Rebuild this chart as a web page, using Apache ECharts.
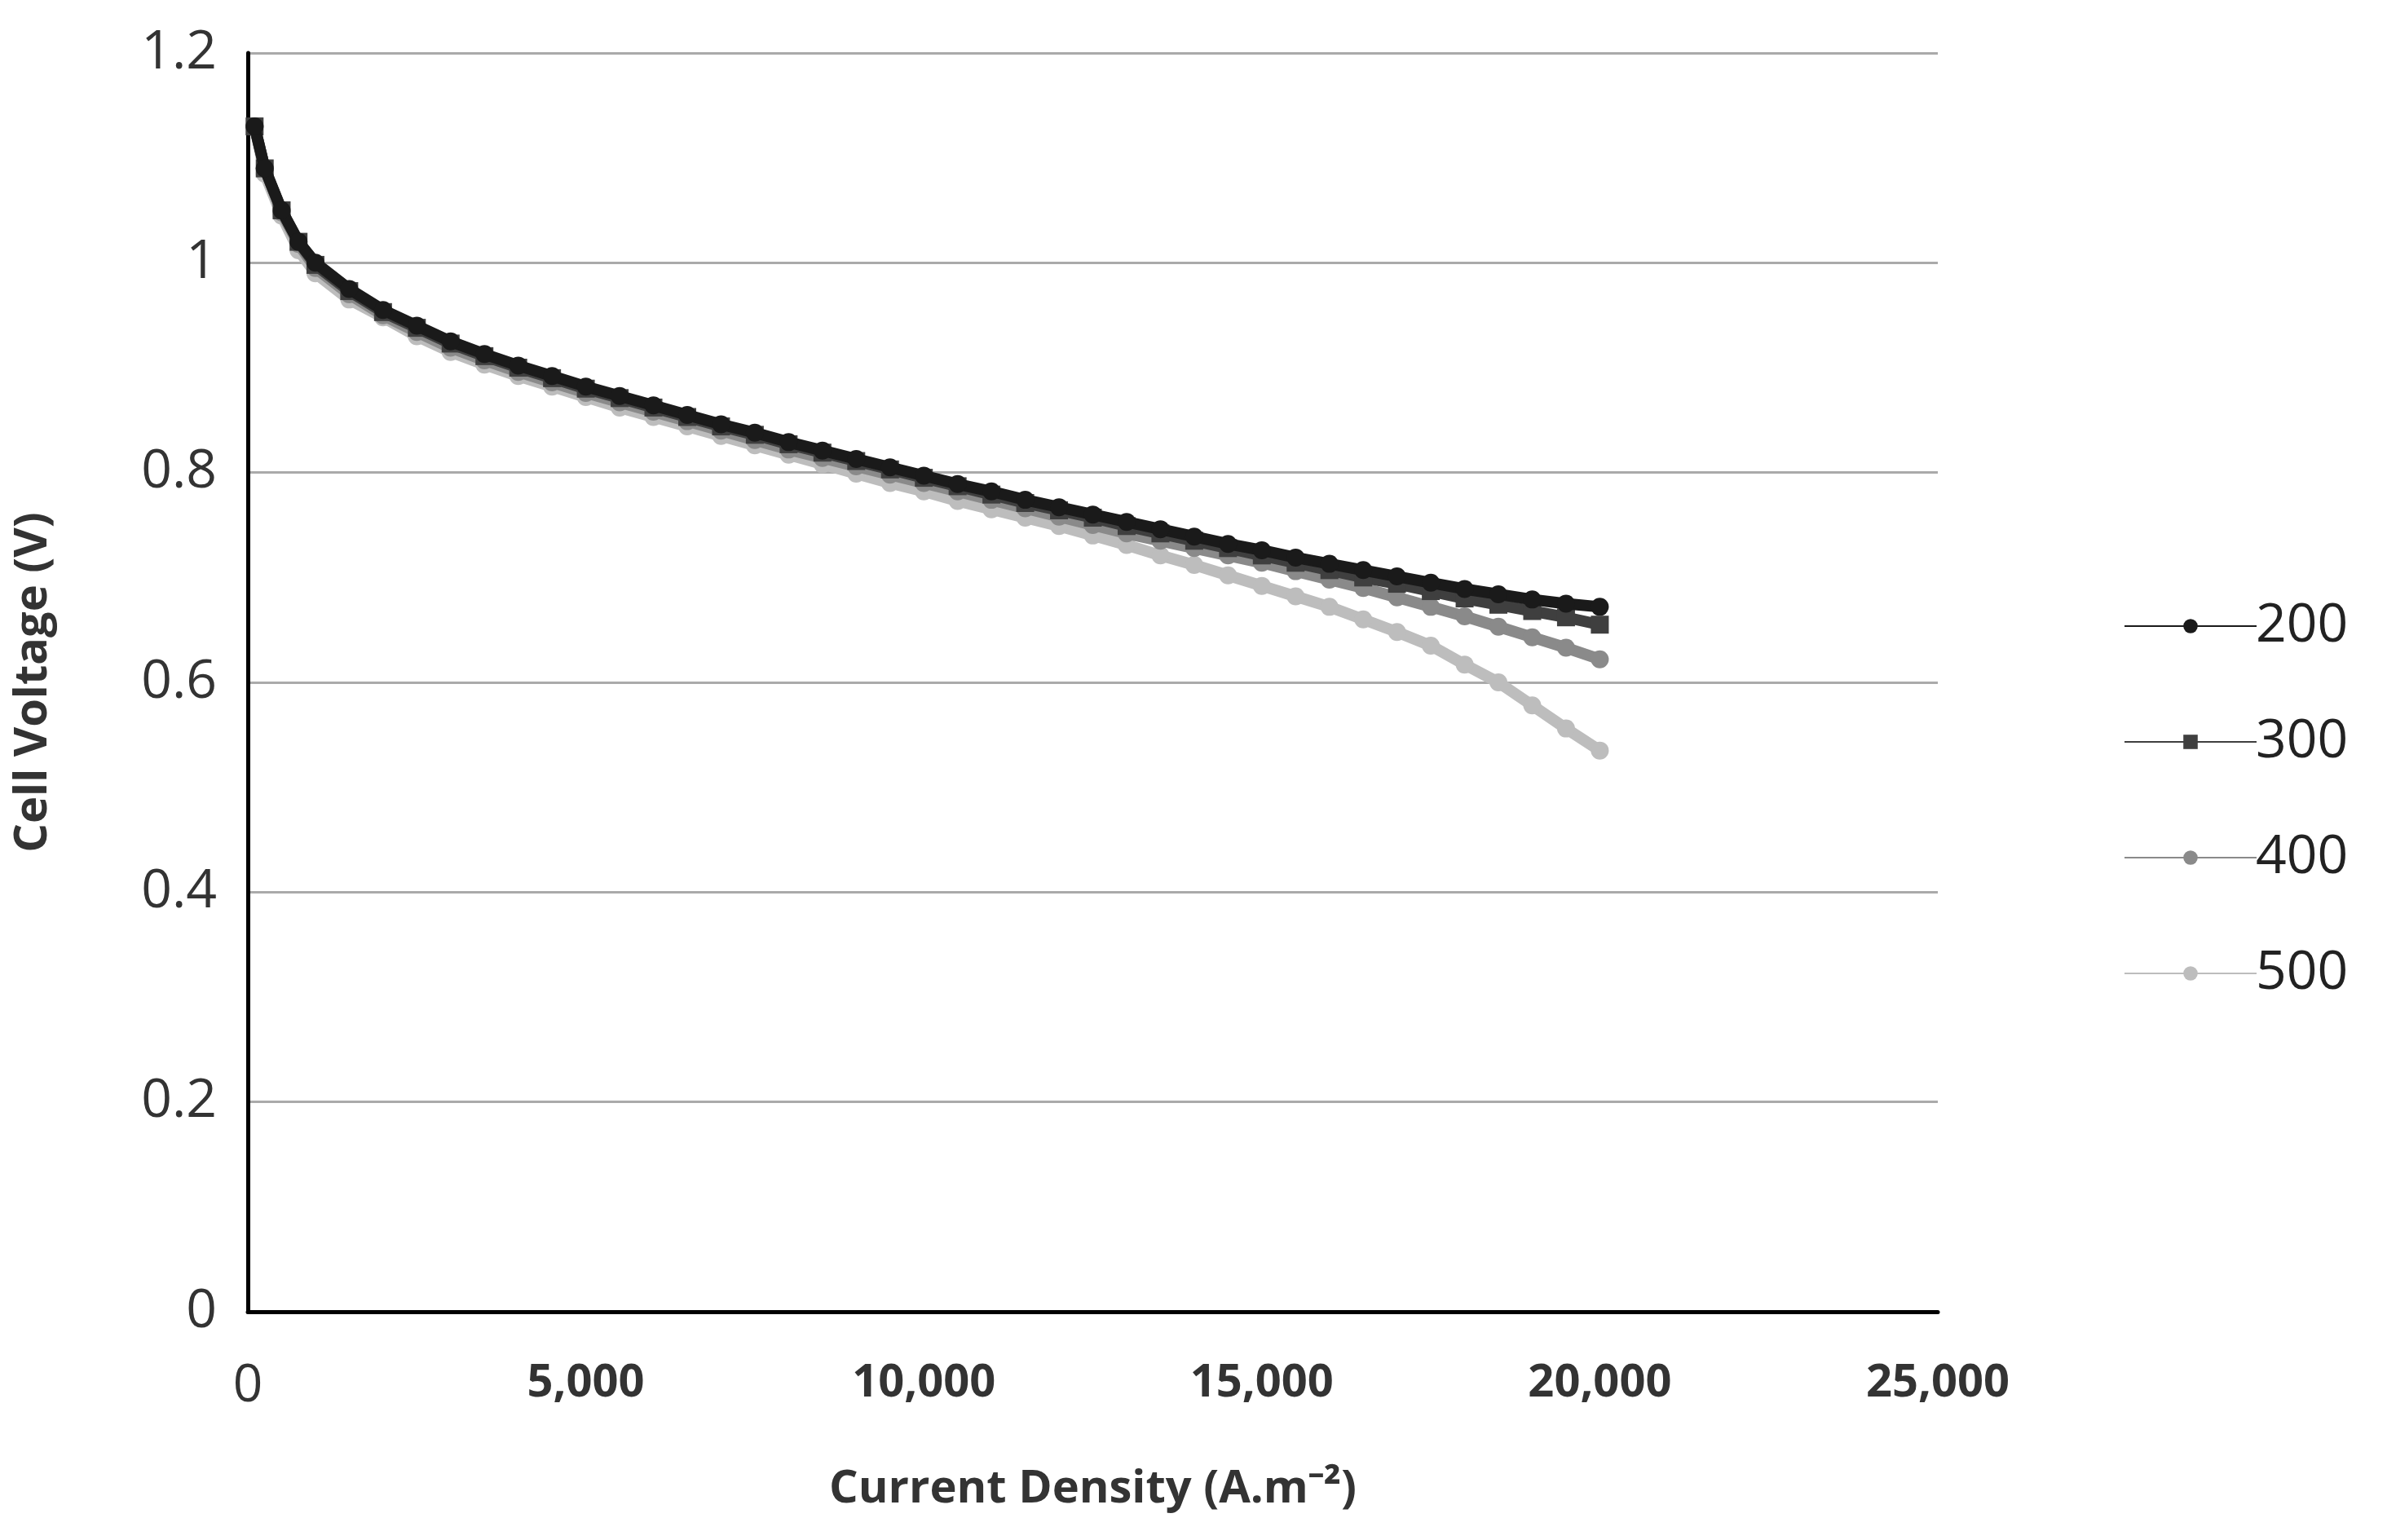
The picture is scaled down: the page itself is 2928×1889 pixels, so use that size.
<html>
<head>
<meta charset="utf-8">
<script src="https://cdn.jsdelivr.net/npm/echarts@6/dist/echarts.min.js"></script>
<style>html,body{margin:0;background:#fff}#main{width:2928px;height:1889px}</style>
</head>
<body>
<div id="main"></div>
<script>
var xs = [100, 250, 500, 750, 1000, 1500, 2000, 2500, 3000, 3500, 4000, 4500, 5000, 5500, 6000, 6500, 7000, 7500, 8000, 8500, 9000, 9500,
  10000, 10500, 11000, 11500, 12000, 12500, 13000, 13500, 14000, 14500, 15000, 15500, 16000, 16500, 17000, 17500, 18000, 18500, 19000, 19500, 20000];
var v200 = [1.13, 1.09, 1.05, 1.02, 1.0, 0.975, 0.955, 0.94, 0.925, 0.913, 0.902, 0.892, 0.882, 0.873, 0.864, 0.855, 0.846, 0.838, 0.829, 0.821, 0.813, 0.805,
  0.797, 0.789, 0.782, 0.774, 0.767, 0.760, 0.753, 0.746, 0.739, 0.732, 0.726, 0.719, 0.713, 0.707, 0.701, 0.695, 0.689, 0.684, 0.679, 0.675, 0.672];
var v300 = [1.13, 1.09, 1.05, 1.02, 0.998, 0.973, 0.953, 0.938, 0.923, 0.911, 0.900, 0.890, 0.880, 0.871, 0.862, 0.853, 0.844, 0.836, 0.827, 0.819, 0.811, 0.803,
  0.795, 0.787, 0.779, 0.771, 0.764, 0.757, 0.749, 0.742, 0.735, 0.728, 0.721, 0.714, 0.707, 0.700, 0.694, 0.687, 0.680, 0.674, 0.668, 0.662, 0.655];
var v400 = [1.13, 1.09, 1.048, 1.018, 0.995, 0.970, 0.950, 0.934, 0.919, 0.907, 0.896, 0.886, 0.876, 0.867, 0.858, 0.849, 0.840, 0.831, 0.822, 0.814, 0.806, 0.798,
  0.790, 0.782, 0.774, 0.766, 0.758, 0.750, 0.742, 0.735, 0.728, 0.721, 0.714, 0.706, 0.698, 0.690, 0.681, 0.672, 0.663, 0.653, 0.643, 0.633, 0.622];
var v500 = [1.13, 1.085, 1.045, 1.012, 0.99, 0.965, 0.948, 0.930, 0.915, 0.903, 0.892, 0.882, 0.872, 0.862, 0.853, 0.844, 0.835, 0.826, 0.817, 0.808, 0.799, 0.790,
  0.782, 0.773, 0.765, 0.757, 0.749, 0.740, 0.731, 0.721, 0.712, 0.702, 0.692, 0.682, 0.672, 0.660, 0.648, 0.635, 0.617, 0.600, 0.578, 0.556, 0.535];
var names = ['200', '300', '400', '500'];
var colors = ['#1a1a1a', '#3f3f3f', '#8a8a8a', '#bdbdbd'];
var symbols = ['circle', 'rect', 'circle', 'circle'];
var values = [v200, v300, v400, v500];

var chart = echarts.init(document.getElementById('main'));
var font = 'Open Sans';
chart.setOption({
  animation: false,
  color: colors,
  grid: { left: 304, right: 551, top: 65, bottom: 280 },
  legend: {
    orient: 'vertical', left: 2600, top: 730, itemGap: 76, itemWidth: 162, itemHeight: 22,
    textStyle: { fontSize: 66, fontFamily: font, color: '#222', padding: [0, 0, 0, -6] },
    data: names
  },
  xAxis: {
    type: 'value', min: 0, max: 25000, interval: 5000,
    name: 'Current Density (A.m⁻²)', nameLocation: 'middle', nameGap: 190,
    nameTextStyle: { fontSize: 56, fontWeight: 'bold', fontFamily: font, color: '#333' },
    axisLine: { lineStyle: { color: '#000', width: 5 } },
    axisTick: { show: false }, splitLine: { show: false },
    axisLabel: {
      margin: 60, fontSize: 56, fontWeight: 'bold', fontFamily: font, color: '#333',
      formatter: function (v) { return v === 0 ? '{z|0}' : v.toLocaleString('en-US'); },
      rich: { z: { fontSize: 64, fontWeight: 'normal', fontFamily: font, color: '#333', padding: [0, 0, 20, 0] } }
    }
  },
  yAxis: {
    type: 'value', min: 0, max: 1.2, interval: 0.2,
    name: 'Cell Voltage (V)', nameLocation: 'middle', nameGap: 235,
    nameTextStyle: { fontSize: 56, fontWeight: 'bold', fontFamily: font, color: '#333' },
    axisLine: { show: true, lineStyle: { color: '#000', width: 5 } },
    axisTick: { show: false },
    splitLine: { lineStyle: { color: '#aaa', width: 3 } },
    axisLabel: {
      margin: 38, fontSize: 66, fontFamily: font, color: '#333',
      formatter: function (v) { return String(Math.round(v * 10) / 10); }
    }
  },
  series: values.map(function (vals, i) {
    return {
      name: names[i], type: 'line', z: 10 - i,
      symbol: symbols[i], symbolSize: 22,
      lineStyle: { width: 14, color: colors[i] },
      itemStyle: { color: colors[i] },
      data: xs.map(function (x, k) { return [x, vals[k]]; })
    };
  }).reverse()
});
</script>
</body>
</html>
